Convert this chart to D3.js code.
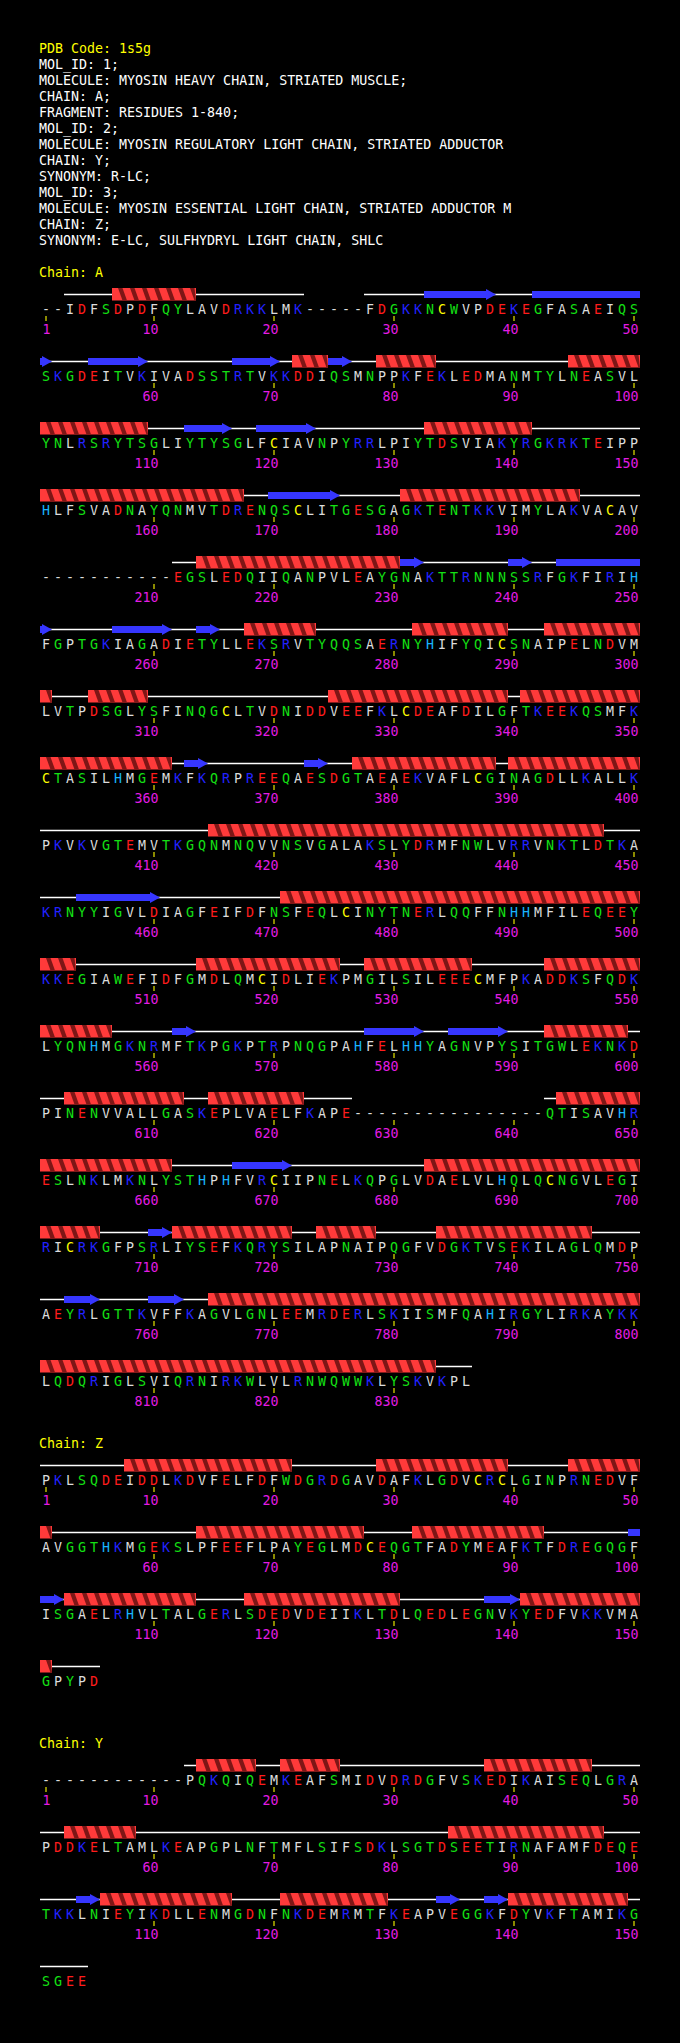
<!DOCTYPE html>
<html>
<head>
<meta charset="utf-8">
<script src="https://cdn.jsdelivr.net/npm/d3@7"></script>
<style>
  body { margin: 0; background: #000; }
  svg { display: block; }
  text { font-family: "DejaVu Sans Mono", monospace; font-size: 13.3px; }
</style>
</head>
<body>
<script>
const width = 680;
const height = 2043;

// Header text
const headerLines = [
  "PDB Code: 1s5g",
  "MOL_ID: 1;",
  "MOLECULE: MYOSIN HEAVY CHAIN, STRIATED MUSCLE;",
  "CHAIN: A;",
  "FRAGMENT: RESIDUES 1-840;",
  "MOL_ID: 2;",
  "MOLECULE: MYOSIN REGULATORY LIGHT CHAIN, STRIATED ADDUCTOR",
  "CHAIN: Y;",
  "SYNONYM: R-LC;",
  "MOL_ID: 3;",
  "MOLECULE: MYOSIN ESSENTIAL LIGHT CHAIN, STRIATED ADDUCTOR M",
  "CHAIN: Z;",
  "SYNONYM: E-LC, SULFHYDRYL LIGHT CHAIN, SHLC"
];

// Sequences, 50 residues per row ('-' = not in model)
const seqA = [
  "--IDFSDPDFQYLAVDRKKLMK-----FDGKKNCWVPDEKEGFASAEIQS",
  "SKGDEITVKIVADSSTRTVKKDDIQSMNPPKFEKLEDMANMTYLNEASVL",
  "YNLRSRYTSGLIYTYSGLFCIAVNPYRRLPIYTDSVIAKYRGKRKTEIPP",
  "HLFSVADNAYQNMVTDRENQSCLITGESGAGKTENTKKVIMYLAKVACAV",
  "-----------EGSLEDQIIQANPVLEAYGNAKTTRNNNSSRFGKFIRIH",
  "FGPTGKIAGADIETYLLEKSRVTYQQSAERNYHIFYQICSNAIPELNDVM",
  "LVTPDSGLYSFINQGCLTVDNIDDVEEFKLCDEAFDILGFTKEEKQSMFK",
  "CTASILHMGEMKFKQRPREEQAESDGTAEAEKVAFLCGINAGDLLKALLK",
  "PKVKVGTEMVTKGQNMNQVVNSVGALAKSLYDRMFNWLVRRVNKTLDTKA",
  "KRNYYIGVLDIAGFEIFDFNSFEQLCINYTNERLQQFFNHHMFILEQEEY",
  "KKEGIAWEFIDFGMDLQMCIDLIEKPMGILSILEEECMFPKADDKSFQDK",
  "LYQNHMGKNRMFTKPGKPTRPNQGPAHFELHHYAGNVPYSITGWLEKNKD",
  "PINENVVALLGASKEPLVAELFKAPE----------------QTISAVHR",
  "ESLNKLMKNLYSTHPHFVRCIIPNELKQPGLVDAELVLHQLQCNGVLEGI",
  "RICRKGFPSRLIYSEFKQRYSILAPNAIPQGFVDGKTVSEKILAGLQMDP",
  "AEYRLGTTKVFFKAGVLGNLEEMRDERLSKIISMFQAHIRGYLIRKAYKK",
  "LQDQRIGLSVIQRNIRKWLVLRNWQWWKLYSKVKPL"
];
const seqZ = [
  "PKLSQDEIDDLKDVFELFDFWDGRDGAVDAFKLGDVCRCLGINPRNEDVF",
  "AVGGTHKMGEKSLPFEEFLPAYEGLMDCEQGTFADYMEAFKTFDREGQGF",
  "ISGAELRHVLTALGERLSDEDVDEIIKLTDLQEDLEGNVKYEDFVKKVMA",
  "GPYPD"
];
const seqY = [
  "------------PQKQIQEMKEAFSMIDVDRDGFVSKEDIKAISEQLGRA",
  "PDDKELTAMLKEAPGPLNFTMFLSIFSDKLSGTDSEETIRNAFAMFDEQE",
  "TKKLNIEYIKDLLENMGDNFNKDEMRMTFKEAPVEGGKFDYVKFTAMIKG",
  "SGEE"
];

// Secondary structure, [first, last] residue numbers
const helixA = [[7,13],[72,74],[79,83],[95,109],[133,141],[151,167],[181,195],[214,230],
  [268,273],[282,289],[293,301],[305,309],[325,339],[341,361],[377,388],[390,400],[415,447],
  [471,503],[514,525],[528,536],[543,556],[593,599],[603,612],[615,622],[644,661],[683,705],
  [712,721],[724,728],[734,746],[765,833]];
const strandA = [[33,38],[42,51],[55,59],[67,70],[75,76],[113,116],[119,123],[170,175],
  [231,232],[240,241],[244,251],[257,261],[264,265],[363,364],[373,374],[454,460],[562,563],
  [578,582],[585,589],[667,671],[710,711],[753,755],[760,762]];
const helixZ = [[8,21],[29,39],[45,51],[64,77],[82,92],[103,113],[118,130],[141,151]];
const strandZ = [[100,102],[138,140]];
const helixY = [[14,18],[21,25],[38,46],[53,58],[85,97],[106,116],[121,129],[140,149]];
const strandY = [[104,105],[134,135],[138,139]];

const chains = [
  {id: "A", seq: seqA.join(""), helix: helixA, strand: strandA},
  {id: "Z", seq: seqZ.join(""), helix: helixZ, strand: strandZ},
  {id: "Y", seq: seqY.join(""), helix: helixY, strand: strandY}
];

// residue colours by type
const resColor = d3.scaleOrdinal()
  .domain(["D","E","K","R","H","G","S","T","N","Q","Y","W","C"])
  .range(["#ff1c1c","#ff1c1c","#2222ff","#2222ff","#18b4ff",
          "#14e014","#14e014","#14e014","#14e014","#14e014","#14e014","#14e014","#ffff00"])
  .unknown("#dcdcdc");

const perRow = 50;
const rowStep = 67;
const chainGap = 99;
const col = d3.scaleLinear().domain([0, perRow]).range([40, 640]);

const svg = d3.select("body")
  .append("svg")
  .attr("width", width)
  .attr("height", height)
  .attr("viewBox", [0, 0, width, height]);

svg.append("rect").attr("width", width).attr("height", height).attr("fill", "#000");

// header
svg.append("g").selectAll("text")
  .data(headerLines)
  .enter()
  .append("text")
  .attr("x", 39)
  .attr("y", (d, i) => 53 + i * 16)
  .attr("fill", (d, i) => i === 0 ? "#ffff00" : "#ffffff")
  .text(d => d);

let ssY = 294;

chains.forEach(c => {
  const nRows = Math.ceil(c.seq.length / perRow);
  const g = svg.append("g").attr("id", "chain-" + c.id);

  g.append("text")
    .attr("x", 39)
    .attr("y", ssY - 17)
    .attr("fill", "#ffff00")
    .text("Chain: " + c.id);

  for (let r = 0; r < nRows; r++) {
    const y0 = ssY + r * rowStep;
    const first = r * perRow + 1;                       // residue number of column 0
    const rowSeq = c.seq.slice(r * perRow, (r + 1) * perRow);
    const last = first + rowSeq.length - 1;
    const rg = g.append("g");

    // coil line under every modelled residue
    const runs = [];
    let runStart = null;
    for (let i = 0; i <= rowSeq.length; i++) {
      const present = i < rowSeq.length && rowSeq[i] !== "-";
      if (present && runStart === null) runStart = i;
      if (!present && runStart !== null) { runs.push([runStart, i]); runStart = null; }
    }
    rg.selectAll(".coil")
      .data(runs)
      .enter()
      .append("line")
      .attr("class", "coil")
      .attr("x1", d => col(d[0]))
      .attr("x2", d => col(d[1]))
      .attr("y1", y0 + 0.5)
      .attr("y2", y0 + 0.5)
      .attr("stroke", "#ffffff")
      .attr("stroke-width", 1.4);

    // helices: red band with a dark diagonal stripe per residue
    const helixParts = c.helix
      .filter(h => h[1] >= first && h[0] <= last)
      .map(h => [Math.max(h[0], first) - first, Math.min(h[1], last) - first + 1]);
    const top = y0 - 6, bot = y0 + 6.5;
    helixParts.forEach(h => {
      const xa = col(h[0]), xb = col(h[1]);
      rg.append("rect")
        .attr("x", xa).attr("y", top)
        .attr("width", xb - xa).attr("height", bot - top)
        .attr("fill", "#ff3a3a");
      const cells = d3.range(h[0], h[1]);
      rg.selectAll(null)
        .data(cells)
        .enter()
        .append("polygon")
        .attr("fill", "#7e1616")
        .attr("points", i => {
          const x0 = col(i);
          const clamp = v => Math.min(v, xb);
          return [[clamp(x0 + 6), top], [clamp(x0 + 10.5), top],
                  [clamp(x0 + 15), bot], [clamp(x0 + 10.5), bot]].join(" ");
        });
    });

    // strands
    c.strand
      .filter(s => s[1] >= first && s[0] <= last)
      .forEach(s => {
        const a = Math.max(s[0], first) - first;
        const b = Math.min(s[1], last) - first + 1;
        const xa = col(a), xb = col(b);
        const hasHead = s[1] <= last;
        const headStart = hasHead ? Math.max(xa, xb - 10) : xb;
        if (headStart > xa) {
          rg.append("rect")
            .attr("x", xa).attr("y", y0 - 3)
            .attr("width", headStart - xa).attr("height", 7)
            .attr("fill", "#3636ff");
        }
        if (hasHead) {
          rg.append("polygon")
            .attr("points", [[headStart, y0 - 5], [xb, y0 + 0.5], [headStart, y0 + 6]].join(" "))
            .attr("fill", "#3636ff");
        }
      });

    // residue letters
    rg.selectAll(".res")
      .data(rowSeq.split(""))
      .enter()
      .append("text")
      .attr("class", "res")
      .attr("x", (d, i) => col(i + 0.5))
      .attr("y", y0 + 19.5)
      .attr("text-anchor", "middle")
      .attr("fill", d => resColor(d))
      .text(d => d);

    // ticks and numbers
    const ticks = d3.range(first, last + 1).filter(n => n === 1 || n % 10 === 0);
    rg.selectAll(".tick")
      .data(ticks)
      .enter()
      .append("line")
      .attr("class", "tick")
      .attr("x1", n => col(n - first + 0.5))
      .attr("x2", n => col(n - first + 0.5))
      .attr("y1", y0 + 22)
      .attr("y2", y0 + 27)
      .attr("stroke", "#e8e800")
      .attr("stroke-width", 1.2);
    rg.selectAll(".num")
      .data(ticks)
      .enter()
      .append("text")
      .attr("class", "num")
      .attr("x", n => col(n - first + 0.5) + 4.5)
      .attr("y", y0 + 40)
      .attr("text-anchor", "end")
      .attr("fill", "#e41ce4")
      .text(n => n);
  }

  ssY += (nRows - 1) * rowStep + chainGap;
});
</script>
</body>
</html>
